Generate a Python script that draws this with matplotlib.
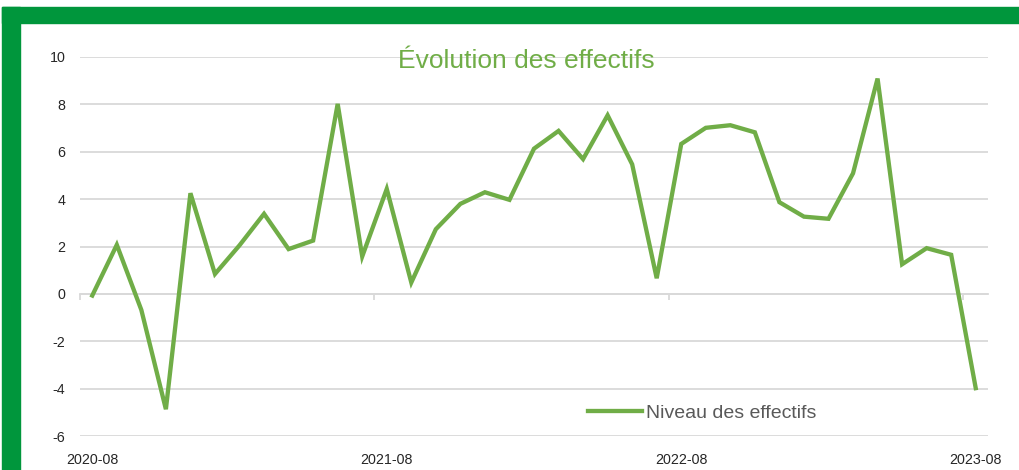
import matplotlib
matplotlib.use("Agg")
import matplotlib.pyplot as plt
import numpy as np

# monthly values, 2020-08 .. 2023-08
months = ["2020-08", "2020-09", "2020-10", "2020-11", "2020-12",
          "2021-01", "2021-02", "2021-03", "2021-04", "2021-05", "2021-06", "2021-07",
          "2021-08", "2021-09", "2021-10", "2021-11", "2021-12",
          "2022-01", "2022-02", "2022-03", "2022-04", "2022-05", "2022-06", "2022-07",
          "2022-08", "2022-09", "2022-10", "2022-11", "2022-12",
          "2023-01", "2023-02", "2023-03", "2023-04", "2023-05", "2023-06", "2023-07",
          "2023-08"]
effectifs = [-0.07, 2.07, -0.68, -4.87, 4.25, 0.84, 2.05, 3.38, 1.89, 2.25, 8.02,
             1.58, 4.43, 0.48, 2.73, 3.80, 4.29, 3.97, 6.13, 6.88, 5.69, 7.54,
             5.47, 0.66, 6.33, 7.01, 7.12, 6.82, 3.87, 3.26, 3.17, 5.09, 9.09,
             1.25, 1.93, 1.65, -3.98]
yticks = [-6, -4, -2, 0, 2, 4, 6, 8, 10]
label_every = 12

plt.rcParams['font.family'] = ['Liberation Sans', 'DejaVu Sans']
plt.rcParams['axes.unicode_minus'] = False

line_green = "#70AD47"
frame_green = "#00963C"
grid_gray = "#D9D9D9"

fig = plt.figure(figsize=(10.2, 4.7), dpi=100)
fig.patch.set_facecolor("white")

# green frame (top band and left band)
fig.patches.append(plt.Rectangle((2 / 1020, 0), 18 / 1020, 1 - 7 / 470,
                                 transform=fig.transFigure, color=frame_green, zorder=0))
fig.patches.append(plt.Rectangle((2 / 1020, 1 - 23 / 470), 1, 16 / 470,
                                 transform=fig.transFigure, color=frame_green, zorder=0))

ax = fig.add_axes([80 / 1020, 1 - 436 / 470, 908 / 1020, 379 / 470])
x = np.arange(len(months))
ax.plot(x, effectifs, color=line_green, lw=3.1, solid_joinstyle="miter",
        label="Niveau des effectifs", zorder=3)

ax.set_xlim(-0.5, len(months) - 0.5)
ax.set_ylim(yticks[0], yticks[-1])
ax.set_yticks(yticks)
ax.yaxis.grid(True, color=grid_gray, lw=1.3)
ax.set_axisbelow(True)
for s in ax.spines.values():
    s.set_visible(False)
ax.tick_params(axis="y", length=0, pad=10.5, labelsize=10.3, labelcolor="#262626")

lab_pos = x[::label_every]
ax.set_xticks(lab_pos)
ax.set_xticklabels([months[i] for i in lab_pos])
ax.tick_params(axis="x", length=0, pad=12, labelsize=10.3, labelcolor="#262626")

# category axis line at zero with tick marks between categories
zero_frac = (0 - yticks[0]) / (yticks[-1] - yticks[0])
sec = ax.secondary_xaxis(zero_frac)
sec.set_xticks(lab_pos - 0.5)
sec.set_xticklabels([])
sec.tick_params(axis="x", direction="out", length=4, color=grid_gray, width=1.3)
sec.spines["bottom"].set_color(grid_gray)
sec.spines["bottom"].set_linewidth(1.3)
for k in ("top", "left", "right"):
    sec.spines[k].set_visible(False)

fig.text(526 / 1020, 1 - 61 / 470, "Évolution des effectifs", color=line_green,
         fontsize=19, ha="center", va="center")

ax.legend(loc="center", bbox_to_anchor=(0.685, 0.06), frameon=False,
          fontsize=14, handlelength=2.8, handletextpad=0.2, labelcolor="#595959")

fig.savefig("out.png", dpi=100, facecolor="white")
